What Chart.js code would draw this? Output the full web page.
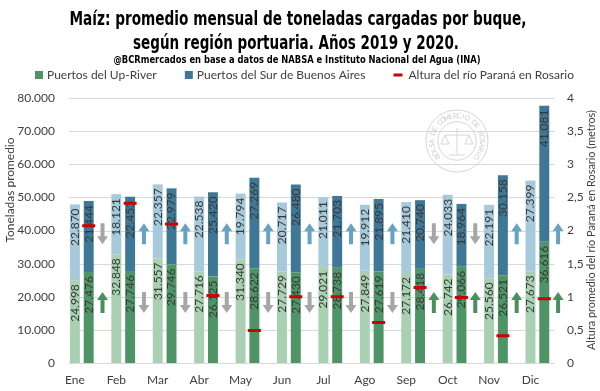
<!DOCTYPE html>
<html><head><meta charset="utf-8">
<script src="https://cdn.jsdelivr.net/npm/chart.js@4.4.0/dist/chart.umd.min.js"></script>
<style>html,body{margin:0;padding:0;background:#fff}#wrap{width:600px;height:391px;position:relative}</style>
</head><body><div id="wrap"><canvas id="c" width="600" height="391"></canvas></div>
<script>
// ---- data ----
const months = ['Ene','Feb','Mar','Abr','May','Jun','Jul','Ago','Sep','Oct','Nov','Dic'];
const upRiver2019 = [24998,32848,31557,27716,31340,27729,29021,27849,27172,26742,25560,27673];
const surBA2019   = [22870,18121,22357,22538,19794,20717,21011,19912,21410,24033,22191,27399];
const upRiver2020 = [27476,27746,29746,26125,28622,27430,28738,27619,28418,29066,26521,36616];
const surBA2020   = [21444,22453,22979,25420,27269,26480,21703,21895,20740,18964,30158,41081];
const riverHeight2020 = [2.07,2.41,2.10,1.02,0.49,1.00,1.00,0.61,1.14,0.99,0.41,0.97];
const leftTicks = [0,10000,20000,30000,40000,50000,60000,70000,80000];
const rightTicks = [0,0.5,1,1.5,2,2.5,3,3.5,4];

const titleLine1 = 'Maíz: promedio mensual de toneladas cargadas por buque,';
const titleLine2 = 'según región portuaria. Años 2019 y 2020.';
const subtitle = '@BCRmercados en base a datos de NABSA e Instituto Nacional del Agua (INA)';
const legendItems = ['Puertos del Up-River','Puertos del Sur de Buenos Aires','Altura del río Paraná en Rosario'];
const leftTitle = 'Toneladas promedio';
const rightTitle = 'Altura promedio del río Paraná en Rosario (metros)';

const C = {
  up19:'#a8d0b1', sur19:'#a6c9db', up20:'#4f9466', sur20:'#3f7896',
  red:'#d00000', text:'#404040', grid:'#d9d9d9',
  arrowUpSur:'#64a3c4', arrowUpUp:'#4a8f5e', arrowDown:'#a6a6a6'
};
const FONT = 'Lato, "Open Sans", sans-serif';
const TITLE_FONT = '"Liberation Sans Narrow", "DejaVu Sans Condensed", "Liberation Sans", sans-serif';

const fmtT = n => String(Math.round(n)).replace(/\B(?=(\d{3})+(?!\d))/g, '.');
const fmtM = v => String(v).replace('.', ',');

function fitText(ctx, text, cx, cy, target, font, color, rot) {
  ctx.save();
  ctx.font = font; ctx.fillStyle = color; ctx.textAlign = 'center'; ctx.textBaseline = 'alphabetic';
  const w = ctx.measureText(text).width;
  let s = target / w; if (s > 1.25) s = 1.25; if (s < 0.75) s = 0.75;
  ctx.translate(cx, cy);
  if (rot) ctx.rotate(rot);
  ctx.scale(s, 1);
  ctx.fillText(text, 0, 0);
  ctx.restore();
}

function drawArrow(ctx, x, yc, up, color) {
  const h = 21, headH = 8, headW = 11, stemW = 4;
  const top = yc - h/2, bot = yc + h/2;
  ctx.fillStyle = color;
  ctx.beginPath();
  if (up) {
    ctx.moveTo(x, top);
    ctx.lineTo(x + headW/2, top + headH);
    ctx.lineTo(x + stemW/2, top + headH);
    ctx.lineTo(x + stemW/2, bot);
    ctx.lineTo(x - stemW/2, bot);
    ctx.lineTo(x - stemW/2, top + headH);
    ctx.lineTo(x - headW/2, top + headH);
  } else {
    ctx.moveTo(x, bot);
    ctx.lineTo(x + headW/2, bot - headH);
    ctx.lineTo(x + stemW/2, bot - headH);
    ctx.lineTo(x + stemW/2, top);
    ctx.lineTo(x - stemW/2, top);
    ctx.lineTo(x - stemW/2, bot - headH);
    ctx.lineTo(x - headW/2, bot - headH);
  }
  ctx.closePath();
  ctx.fill();
}

function drawWatermark(ctx, cx, cy, r) {
  ctx.save();
  ctx.strokeStyle = '#d6d6d6'; ctx.fillStyle = '#cfcfcf'; ctx.lineWidth = 1;
  ctx.beginPath(); ctx.arc(cx, cy, r, 0, Math.PI*2); ctx.stroke();
  ctx.beginPath(); ctx.arc(cx, cy, r*0.62, 0, Math.PI*2); ctx.stroke();
  const txt = 'BOLSA DE COMERCIO DE ROSARIO';
  ctx.font = '7px ' + FONT; ctx.textAlign = 'center'; ctx.textBaseline = 'middle';
  const start = -Math.PI/2 - 2.25, end = -Math.PI/2 + 2.25;
  for (let k = 0; k < txt.length; k++) {
    const a = start + (end - start) * k / (txt.length - 1);
    ctx.save();
    ctx.translate(cx + Math.cos(a) * r * 0.81, cy + Math.sin(a) * r * 0.81);
    ctx.rotate(a + Math.PI/2);
    ctx.fillText(txt[k], 0, 0);
    ctx.restore();
  }
  ctx.beginPath();
  ctx.moveTo(cx, cy - 13); ctx.lineTo(cx, cy + 14);
  ctx.moveTo(cx - 12, cy - 6); ctx.lineTo(cx + 12, cy - 6);
  ctx.moveTo(cx - 12, cy - 6); ctx.lineTo(cx - 16, cy + 3); ctx.lineTo(cx - 8, cy + 3); ctx.closePath();
  ctx.moveTo(cx + 12, cy - 6); ctx.lineTo(cx + 8, cy + 3); ctx.lineTo(cx + 16, cy + 3); ctx.closePath();
  ctx.moveTo(cx - 8, cy + 14); ctx.lineTo(cx + 8, cy + 14);
  ctx.stroke();
  ctx.restore();
}

function drawLegend(ctx) {
  ctx.save();
  ctx.font = '12px ' + FONT; ctx.textBaseline = 'middle'; ctx.textAlign = 'left';
  const ly = 75, x0 = 35, x1 = 574;
  const w = legendItems.map(t => ctx.measureText(t).width);
  const lead = [8 + 4, 8 + 4, 9 + 6];
  const total = w[0] + w[1] + w[2] + lead[0] + lead[1] + lead[2];
  const gap = (x1 - x0 - total) / 2;
  let x = x0;
  // item 1
  ctx.fillStyle = C.up20; ctx.fillRect(x, ly - 4, 8, 8);
  ctx.fillStyle = C.text; ctx.fillText(legendItems[0], x + lead[0], ly);
  x += lead[0] + w[0] + gap;
  ctx.fillStyle = C.sur20; ctx.fillRect(x, ly - 4, 8, 8);
  ctx.fillStyle = C.text; ctx.fillText(legendItems[1], x + lead[1], ly);
  x += lead[1] + w[1] + gap;
  ctx.fillStyle = C.red; ctx.fillRect(x, ly - 1.5, 9, 3);
  ctx.fillStyle = C.text; ctx.fillText(legendItems[2], x + lead[2], ly);
  ctx.restore();
}

const custom = {
  id: 'custom',
  beforeDraw(chart) {
    const ctx = chart.ctx;
    ctx.save(); ctx.fillStyle = '#fff'; ctx.fillRect(0, 0, chart.width, chart.height); ctx.restore();
    fitText(ctx, titleLine1, 298, 25, 457, 'bold 20px ' + TITLE_FONT, '#000');
    fitText(ctx, titleLine2, 296, 49, 318, 'bold 20px ' + TITLE_FONT, '#000');
    fitText(ctx, subtitle, 297, 63, 367, 'bold 11px ' + TITLE_FONT, '#000');
    drawLegend(ctx);
    fitText(ctx, leftTitle, 14, 190, 105, '12px ' + FONT, C.text, -Math.PI/2);
    fitText(ctx, rightTitle, 595, 230, 240, '12px ' + FONT, C.text, -Math.PI/2);
  },
  beforeDatasetsDraw(chart) {
    const ctx = chart.ctx, ys = chart.scales.y, ca = chart.chartArea;
    const dark = chart.getDatasetMeta(3).data;
    const endX = dark[dark.length - 1].x + dark[dark.length - 1].width / 2 + 5;
    ctx.save();
    ctx.strokeStyle = C.grid; ctx.lineWidth = 1;
    leftTicks.forEach(v => {
      const y = Math.round(ys.getPixelForValue(v)) + 0.5;
      ctx.beginPath(); ctx.moveTo(ca.left + 1, y); ctx.lineTo(endX, y); ctx.stroke();
    });
    ctx.restore();
    drawWatermark(ctx, 457, 141, 31);
  },
  afterDatasetDraw(chart, args) {
    const i = args.index;
    if (i > 3) return;
    const ctx = chart.ctx;
    const vals = chart.data.datasets[i].data;
    ctx.save();
    ctx.font = '12px ' + FONT; ctx.fillStyle = '#383838';
    ctx.textAlign = 'right'; ctx.textBaseline = 'middle';
    args.meta.data.forEach((bar, j) => {
      const top = Math.min(bar.y, bar.base);
      ctx.save();
      ctx.translate(bar.x, top + 4);
      ctx.rotate(-Math.PI/2);
      ctx.fillText(fmtT(vals[j]), 0, 0);
      ctx.restore();
    });
    ctx.restore();
  },
  afterDatasetsDraw(chart) {
    const ctx = chart.ctx, ys = chart.scales.y;
    const light = chart.getDatasetMeta(0).data, dark = chart.getDatasetMeta(2).data;
    const ySur = ys.getPixelForValue(39000), yUp = ys.getPixelForValue(18250);
    ctx.save();
    months.forEach((m, j) => {
      const x = 2 * dark[j].x - light[j].x;
      const surUp = surBA2020[j] > surBA2019[j];
      const upUp = upRiver2020[j] > upRiver2019[j];
      drawArrow(ctx, x, ySur, surUp, surUp ? C.arrowUpSur : C.arrowDown);
      drawArrow(ctx, x, yUp, upUp, upUp ? C.arrowUpUp : C.arrowDown);
    });
    ctx.restore();
  }
};

const barOpts = { barPercentage: 0.72, categoryPercentage: 1.0, borderWidth: 0, order: 1, yAxisID: 'y' };
new Chart(document.getElementById('c'), {
  type: 'bar',
  data: {
    labels: months,
    datasets: [
      Object.assign({ label: 'Puertos del Up-River 2019', data: upRiver2019, backgroundColor: C.up19, stack: 's2019' }, barOpts),
      Object.assign({ label: 'Puertos del Sur de Buenos Aires 2019', data: surBA2019, backgroundColor: C.sur19, stack: 's2019' }, barOpts),
      Object.assign({ label: 'Puertos del Up-River 2020', data: upRiver2020, backgroundColor: C.up20, stack: 's2020' }, barOpts),
      Object.assign({ label: 'Puertos del Sur de Buenos Aires 2020', data: surBA2020, backgroundColor: C.sur20, stack: 's2020' }, barOpts),
      Object.assign({ label: 'variación', data: months.map(() => null), backgroundColor: 'rgba(0,0,0,0)', stack: 'sArrow' }, barOpts),
      { type: 'line', label: 'Altura del río Paraná en Rosario', data: riverHeight2020, yAxisID: 'y1',
        showLine: false, pointStyle: 'line', pointRadius: 6.5, pointHoverRadius: 6.5, pointBorderWidth: 3,
        pointHoverBorderWidth: 3, borderColor: C.red, backgroundColor: C.red, order: 0 }
    ]
  },
  options: {
    responsive: false, animation: false, devicePixelRatio: 1, events: [],
    layout: { padding: { top: 98, left: 0, right: 0, bottom: 0 } },
    plugins: { legend: { display: false }, title: { display: false }, tooltip: { enabled: false } },
    scales: {
      x: {
        stacked: true, offset: true,
        grid: { display: false, drawTicks: false }, border: { display: false },
        ticks: { font: { family: FONT, size: 12 }, color: C.text, padding: 10, labelOffset: -13.8, maxRotation: 0, autoSkip: false },
        afterFit: s => { s.height = 28; }
      },
      y: {
        stacked: true, min: 0, max: 80000,
        grid: { display: false, drawTicks: false }, border: { display: false },
        ticks: { stepSize: 10000, callback: v => fmtT(v), font: { family: FONT, size: 12 }, color: C.text, padding: 13 },
        afterFit: s => { s.width = 68; }
      },
      y1: {
        position: 'right', min: 0, max: 4,
        grid: { display: false, drawTicks: false }, border: { display: false },
        ticks: { stepSize: 0.5, callback: v => fmtM(v), font: { family: FONT, size: 12 }, color: C.text, padding: 2 },
        afterFit: s => { s.width = 35; }
      }
    }
  },
  plugins: [custom]
});
</script>
</body></html>
